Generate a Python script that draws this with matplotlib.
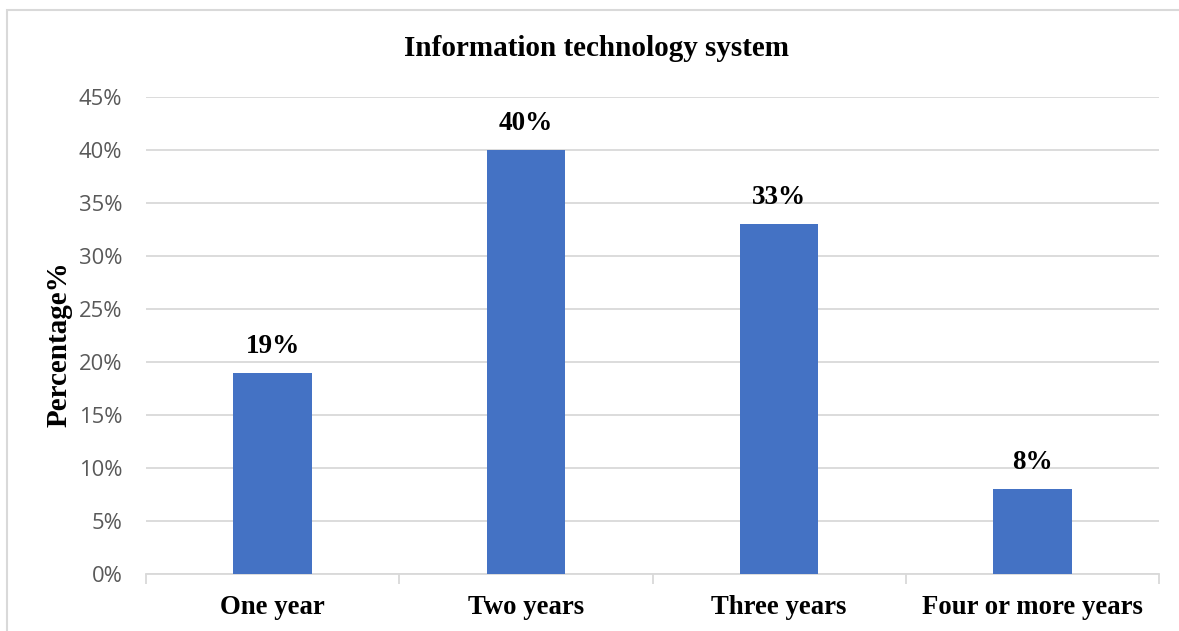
import matplotlib
matplotlib.use('Agg')
import matplotlib.pyplot as plt
from matplotlib.patches import Rectangle
from matplotlib.ticker import FuncFormatter, MultipleLocator

# --- data ---
categories = ['One year', 'Two years', 'Three years', 'Four or more years']
percentages = [19, 40, 33, 8]
title = 'Information technology system'
y_label = 'Percentage%'

bar_color = '#4472C4'
grid_color = '#D9D9D9'
tick_color = '#595959'
serif = ['Liberation Serif', 'DejaVu Serif']
sans = ['Open Sans', 'DejaVu Sans']

fig = plt.figure(figsize=(11.79, 6.31), dpi=100)
ax = fig.add_axes([146 / 1179, 1 - 574 / 631, (1159 - 146) / 1179, (574 - 97) / 631])

x = range(len(categories))
bars = ax.bar(x, percentages, width=0.31, color=bar_color, zorder=3)

# value labels above each bar
for b, v in zip(bars, percentages):
    ax.text(b.get_x() + b.get_width() / 2, v + 1.3, f'{v}%', ha='center', va='bottom',
            fontsize=19.5, fontweight='bold', family=serif, color='black')

ax.set_xlim(-0.5, len(categories) - 0.5)
ax.set_ylim(0, 45)
ax.yaxis.set_major_locator(MultipleLocator(5))
ax.yaxis.set_major_formatter(FuncFormatter(lambda v, _: f'{v:.0f}%'))
ax.grid(axis='y', color=grid_color, linewidth=1.3, zorder=0)

ax.set_xticks(list(x))
ax.set_xticklabels(categories, fontsize=19.3, fontweight='bold', family=serif)
# tick marks sit at category boundaries
ax.set_xticks([i - 0.5 for i in range(len(categories) + 1)], minor=True)
ax.tick_params(axis='x', which='major', length=0, pad=15)
ax.tick_params(axis='x', which='minor', length=7, color=grid_color, width=1.3)
ax.tick_params(axis='y', length=0, pad=17, labelcolor=tick_color, labelsize=15.8)
for lbl in ax.get_yticklabels():
    lbl.set_family(sans)

for side in ['top', 'right', 'left']:
    ax.spines[side].set_visible(False)
ax.spines['bottom'].set_color(grid_color)
ax.spines['bottom'].set_linewidth(1.3)

ax.set_ylabel(y_label, fontsize=21, fontweight='bold', family=serif)
ax.yaxis.set_label_coords(-73 / 1013, 0.481)
fig.text(597 / 1179, 1 - 48 / 631, title, ha='center', va='center',
         fontsize=21, fontweight='bold', family=serif)

# light frame around the whole chart
fig.patches.append(Rectangle((7 / 1179, -0.1), 1.2, 1 - 10 / 631 + 0.1,
                             transform=fig.transFigure, fill=False,
                             edgecolor='#D9D9D9', linewidth=1.5))

fig.savefig('out.png', dpi=100)
